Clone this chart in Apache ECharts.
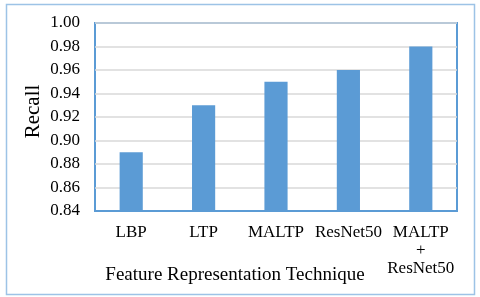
<!DOCTYPE html>
<html><head><meta charset="utf-8">
<script src="https://cdn.jsdelivr.net/npm/echarts@6/dist/echarts.min.js"></script>
<style>html,body{margin:0;padding:0;background:#fff}#c{width:480px;height:297px}</style>
</head><body><div id="c"></div>
<script>
var categories = ['LBP', 'LTP', 'MALTP', 'ResNet50', 'MALTP\n+\nResNet50'];
var recall = [0.89, 0.93, 0.95, 0.96, 0.98];
var yTicks = { min: 0.84, max: 1.00, interval: 0.02 };

var font = '"Liberation Serif", "Times New Roman", serif';
var chart = echarts.init(document.getElementById('c'), null, { renderer: 'canvas' });
chart.setOption({
  animation: false,
  backgroundColor: '#fff',
  graphic: [{
    type: 'rect', left: 4, top: 2, shape: { width: 468, height: 290 },
    style: { fill: 'none', stroke: '#9DC3E6', lineWidth: 1.5 }, z: -1
  }],
  grid: { left: 95, top: 23, right: 23, bottom: 86, containLabel: false, outerBoundsMode: 'none', show: true, borderColor: '#5B9BD5', borderWidth: 2, backgroundColor: 'transparent' },
  xAxis: {
    type: 'category', data: categories,
    name: 'Feature Representation Technique', nameLocation: 'middle', nameGap: 55, nameMoveOverlap: false,
    nameTextStyle: { fontFamily: font, fontSize: 19, color: '#000', padding: [0, 82, 0, 0] },
    axisLine: { show: true, lineStyle: { color: '#5B9BD5', width: 2 } },
    axisTick: { show: false },
    axisLabel: { fontFamily: font, fontSize: 17, color: '#000', margin: 13, lineHeight: 18, interval: 0 }
  },
  yAxis: {
    type: 'value', min: yTicks.min, max: yTicks.max, interval: yTicks.interval,
    name: 'Recall', nameLocation: 'middle', nameGap: 51, nameMoveOverlap: false,
    nameTextStyle: { fontFamily: font, fontSize: 21, color: '#000', padding: [0, 0, 0, 11] },
    axisLine: { show: false }, axisTick: { show: false },
    axisLabel: { fontFamily: font, fontSize: 17, color: '#000', margin: 15, formatter: function (v) { return v.toFixed(2); } },
    splitLine: { lineStyle: { color: '#D9D9D9', width: 1.5 } }
  },
  series: [{
    type: 'bar', data: recall, barWidth: '32%',
    itemStyle: { color: '#5B9BD5' }
  }]
});
</script></body></html>
